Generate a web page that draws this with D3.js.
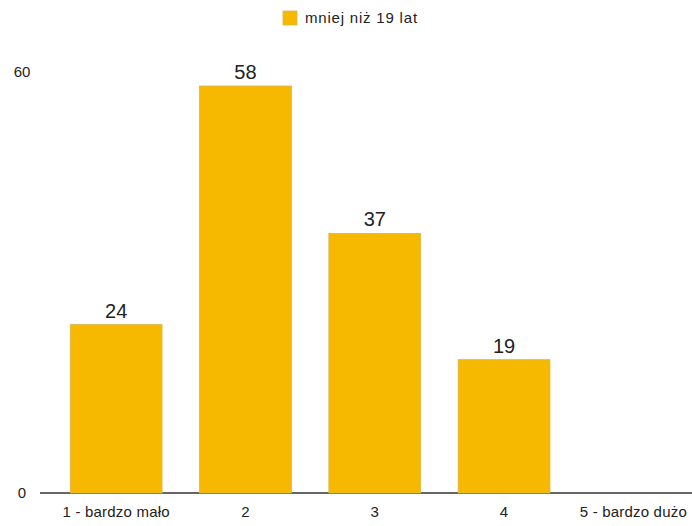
<!DOCTYPE html>
<html><head><meta charset="utf-8">
<script src="https://cdn.jsdelivr.net/npm/d3@7"></script>
<style>body{margin:0;background:#fff}text{font-family:"Liberation Sans",Arial,sans-serif;fill:#222}</style>
</head><body><svg id="c" width="692" height="526"></svg>
<script>
const categories = ["1 - bardzo mało", "2", "3", "4", "5 - bardzo dużo"];
const values = [24, 58, 37, 19, null];
const seriesName = "mniej niż 19 lat";
const yTicks = [0, 60];

const svg = d3.select("#c");
const x = d3.scaleBand().domain(categories).range([51.5, 698]).paddingInner(0.29).paddingOuter(0.145);
const y = d3.scaleLinear().domain([0, 60]).range([493, 72]);
const color = "#F6B900";

svg.append("line").attr("x1", 40).attr("x2", 692).attr("y1", y(0)).attr("y2", y(0))
  .attr("stroke", "#333").attr("stroke-width", 1.5);

svg.selectAll(".yt").data(yTicks).join("text")
  .attr("x", 22).attr("y", d => y(d)).attr("dy", "0.35em").attr("text-anchor", "middle")
  .attr("font-size", 15).text(d => d);

svg.selectAll(".xt").data(categories).join("text")
  .attr("x", d => x(d) + x.bandwidth() / 2).attr("y", 517).attr("text-anchor", "middle")
  .attr("font-size", 15).attr("letter-spacing", 0.2).text(d => d);

const data = categories.map((c, i) => ({c, v: values[i]})).filter(d => d.v != null);
svg.selectAll(".bar").data(data).join("rect")
  .attr("x", d => x(d.c)).attr("width", x.bandwidth())
  .attr("y", d => y(d.v)).attr("height", d => y(0) - y(d.v))
  .attr("fill", color).attr("stroke", "#d9b44a").attr("stroke-width", 0.8);

svg.selectAll(".val").data(data).join("text")
  .attr("x", d => x(d.c) + x.bandwidth() / 2).attr("y", d => y(d.v) - 7)
  .attr("text-anchor", "middle").attr("font-size", 20).text(d => d.v);

svg.append("rect").attr("x", 283).attr("y", 11).attr("width", 14).attr("height", 14)
  .attr("fill", color).attr("stroke", "#d9b44a").attr("stroke-width", 0.8);
svg.append("text").attr("x", 305).attr("y", 18).attr("dy", "0.35em").attr("font-size", 15)
  .attr("letter-spacing", 0.8).text(seriesName);
</script></body></html>
